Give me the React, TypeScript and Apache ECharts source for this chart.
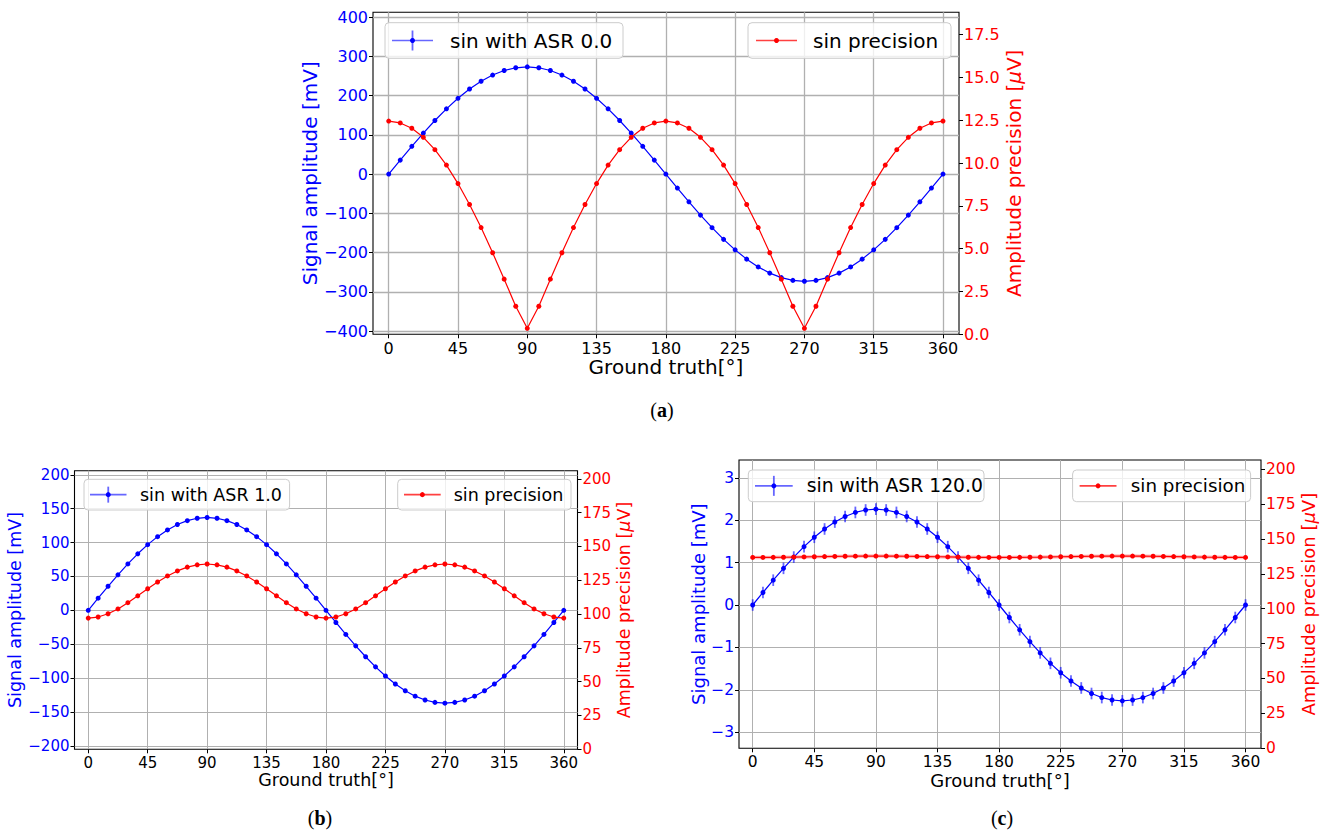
import React, { useEffect, useRef } from "react";
import * as echarts from "echarts";

// ---------------- data ----------------
const angles = [
  0, 7.5, 15, 22.5, 30, 37.5, 45, 52.5, 60, 67.5, 75, 82.5, 90,
  97.5, 105, 112.5, 120, 127.5, 135, 142.5, 150, 157.5, 165, 172.5, 180,
  187.5, 195, 202.5, 210, 217.5, 225, 232.5, 240, 247.5, 255, 262.5, 270,
  277.5, 285, 292.5, 300, 307.5, 315, 322.5, 330, 337.5, 345, 352.5, 360,
];

const xTicks = [0, 45, 90, 135, 180, 225, 270, 315, 360];

// (a) ASR 0.0
const ampA = [
  0, 35.6, 70.7, 104.5, 136.5, 166.2, 193.0, 216.6, 236.4, 252.2, 263.7, 270.7, 273.0,
  270.7, 263.7, 252.2, 236.4, 216.6, 193.0, 166.2, 136.5, 104.5, 70.7, 35.6, 0.0,
  -35.6, -70.7, -104.5, -136.5, -166.2, -193.0, -216.6, -236.4, -252.2, -263.7, -270.7, -273.0,
  -270.7, -263.7, -252.2, -236.4, -216.6, -193.0, -166.2, -136.5, -104.5, -70.7, -35.6, 0.0,
];
const precA = [
  12.45, 12.34, 12.03, 11.5, 10.78, 9.88, 8.8, 7.58, 6.23, 4.76, 3.22, 1.64, 0.35,
  1.64, 3.22, 4.76, 6.23, 7.58, 8.8, 9.88, 10.78, 11.5, 12.03, 12.34, 12.45,
  12.34, 12.03, 11.5, 10.78, 9.88, 8.8, 7.58, 6.23, 4.76, 3.22, 1.64, 0.35,
  1.64, 3.22, 4.76, 6.23, 7.58, 8.8, 9.88, 10.78, 11.5, 12.03, 12.34, 12.45,
];
const ampTicksA = [-400, -300, -200, -100, 0, 100, 200, 300, 400];
const precTicksA = [0, 2.5, 5, 7.5, 10, 12.5, 15, 17.5];

// (b) ASR 1.0
const ampB = [
  0, 17.9, 35.5, 52.4, 68.5, 83.4, 96.9, 108.7, 118.6, 126.6, 132.3, 135.8, 137.0,
  135.8, 132.3, 126.6, 118.6, 108.7, 96.9, 83.4, 68.5, 52.4, 35.5, 17.9, 0.0,
  -17.9, -35.5, -52.4, -68.5, -83.4, -96.9, -108.7, -118.6, -126.6, -132.3, -135.8, -137.0,
  -135.8, -132.3, -126.6, -118.6, -108.7, -96.9, -83.4, -68.5, -52.4, -35.5, -17.9, 0.0,
];
const precB = [
  97.0, 97.8, 100.2, 103.8, 108.4, 113.5, 118.7, 123.7, 128.2, 131.9, 134.7, 136.4, 137.0,
  136.4, 134.7, 131.9, 128.2, 123.7, 118.7, 113.5, 108.4, 103.8, 100.2, 97.8, 97.0,
  97.8, 100.2, 103.8, 108.4, 113.5, 118.7, 123.7, 128.2, 131.9, 134.7, 136.4, 137.0,
  136.4, 134.7, 131.9, 128.2, 123.7, 118.7, 113.5, 108.4, 103.8, 100.2, 97.8, 97.0,
];
const ampTicksB = [-200, -150, -100, -50, 0, 50, 100, 150, 200];
const precTicksB = [0, 25, 50, 75, 100, 125, 150, 175, 200];

// (c) ASR 120.0
const ampC = [
  0, 0.295, 0.585, 0.865, 1.13, 1.376, 1.598, 1.793, 1.957, 2.088, 2.183, 2.241, 2.26,
  2.241, 2.183, 2.088, 1.957, 1.793, 1.598, 1.376, 1.13, 0.865, 0.585, 0.295, 0.0,
  -0.295, -0.585, -0.865, -1.13, -1.376, -1.598, -1.793, -1.957, -2.088, -2.183, -2.241, -2.26,
  -2.241, -2.183, -2.088, -1.957, -1.793, -1.598, -1.376, -1.13, -0.865, -0.585, -0.295, 0.0,
];
const precC = [
  136.7, 136.72, 136.77, 136.85, 136.95, 137.07, 137.2, 137.33, 137.45, 137.55, 137.63, 137.68, 137.7,
  137.68, 137.63, 137.55, 137.45, 137.33, 137.2, 137.07, 136.95, 136.85, 136.77, 136.72, 136.7,
  136.72, 136.77, 136.85, 136.95, 137.07, 137.2, 137.33, 137.45, 137.55, 137.63, 137.68, 137.7,
  137.68, 137.63, 137.55, 137.45, 137.33, 137.2, 137.07, 136.95, 136.85, 136.77, 136.72, 136.7,
];
const ampTicksC = [-3, -2, -1, 0, 1, 2, 3];
const precTicksC = [0, 25, 50, 75, 100, 125, 150, 175, 200];

const blueNames = ["sin with ASR 0.0", "sin with ASR 1.0", "sin with ASR 120.0"];
const redName = "sin precision";
const panelLabels = ["a", "b", "c"];

// ---------------- styling ----------------
const FONT = "DejaVu Sans";
const BLUE = "#0000ff";
const RED = "#ff0000";
const minus = (s: string) => s.replace("-", "\u2212");

type Panel = {
  grid: { left: number; top: number; width: number; height: number };
  xMin: number; xMax: number;
  lMin: number; lMax: number; lTicks: number[]; lFmt: (v: number) => string;
  rMin: number; rMax: number; rTicks: number[]; rFmt: (v: number) => string;
  amp: number[]; prec: number[];
  tickFont: number; nameFont: number;
  lGap: number; rGap: number; xGap: number;
  gridW: number; band: boolean;
};

const panels: Panel[] = [
  {
    grid: { left: 373, top: 12.3, width: 586, height: 322 },
    xMin: -10.2, xMax: 370.4,
    lMin: -408, lMax: 412, lTicks: ampTicksA, lFmt: (v) => minus(String(v)),
    rMin: 0, rMax: 18.8, rTicks: precTicksA, rFmt: (v) => v.toFixed(1),
    amp: ampA, prec: precA, tickFont: 16, nameFont: 20,
    lGap: 50, rGap: 44, xGap: 23, gridW: 1.3, band: false,
  },
  {
    grid: { left: 74.5, top: 470.7, width: 503, height: 278.6 },
    xMin: -10.4, xMax: 370.4,
    lMin: -205, lMax: 206, lTicks: ampTicksB, lFmt: (v) => minus(String(v)),
    rMin: 0, rMax: 206, rTicks: precTicksB, rFmt: (v) => String(v),
    amp: ampB, prec: precB, tickFont: 15, nameFont: 17.5,
    lGap: 44, rGap: 36, xGap: 18.5, gridW: 1, band: false,
  },
  {
    grid: { left: 739, top: 460, width: 522, height: 288.3 },
    xMin: -10, xMax: 371.3,
    lMin: -3.38, lMax: 3.42, lTicks: ampTicksC, lFmt: (v) => minus(String(v)),
    rMin: 0, rMax: 206.5, rTicks: precTicksC, rFmt: (v) => String(v),
    amp: ampC, prec: precC, tickFont: 15.5, nameFont: 18,
    lGap: 31, rGap: 32, xGap: 18, gridW: 1, band: true,
  },
];

function buildOption() {
  const grid: any[] = [];
  const xAxis: any[] = [];
  const yAxis: any[] = [];
  const series: any[] = [];

  panels.forEach((p, i) => {
    grid.push({
      ...p.grid,
      show: true,
      borderColor: "#000",
      borderWidth: 1.1,
      backgroundColor: "transparent",
      containLabel: false,
    });
    xAxis.push({
      type: "value",
      gridIndex: i,
      position: "bottom",
      min: p.xMin,
      max: p.xMax,
      axisLine: { show: false, onZero: false },
      axisTick: { show: true, length: 4, customValues: xTicks, lineStyle: { color: "#000" } },
      axisLabel: {
        customValues: xTicks,
        margin: 6,
        color: "#000",
        fontFamily: FONT,
        fontSize: p.tickFont,
        formatter: (v: number) => String(v),
      },
      splitLine: { show: true, lineStyle: { color: "#b0b0b0", width: p.gridW } },
      name: "Ground truth[°]",
      nameLocation: "middle",
      nameGap: p.xGap,
      nameTextStyle: { color: "#000", fontFamily: FONT, fontSize: p.nameFont },
    });
    yAxis.push({
      type: "value",
      gridIndex: i,
      position: "left",
      min: p.lMin,
      max: p.lMax,
      axisLine: { show: false, onZero: false },
      axisTick: { show: true, length: 4, customValues: p.lTicks, lineStyle: { color: "#000" } },
      axisLabel: {
        customValues: p.lTicks,
        margin: 5,
        color: BLUE,
        fontFamily: FONT,
        fontSize: p.tickFont,
        formatter: p.lFmt,
      },
      splitLine: { show: true, lineStyle: { color: "#b0b0b0", width: p.gridW } },
      name: "Signal amplitude [mV]",
      nameLocation: "middle",
      nameRotate: 90,
      nameGap: p.lGap,
      nameTextStyle: { color: BLUE, fontFamily: FONT, fontSize: p.nameFont },
    });
    yAxis.push({
      type: "value",
      gridIndex: i,
      position: "right",
      min: p.rMin,
      max: p.rMax,
      axisLine: { show: false, onZero: false },
      axisTick: { show: true, length: 4, customValues: p.rTicks, lineStyle: { color: "#000" } },
      axisLabel: {
        customValues: p.rTicks,
        margin: 5,
        color: RED,
        fontFamily: FONT,
        fontSize: p.tickFont,
        formatter: p.rFmt,
      },
      splitLine: { show: false },
      name: "{a|Amplitude precision [}{b|μ}{a|V]}",
      nameLocation: "middle",
      nameRotate: 90,
      nameGap: p.rGap,
      nameTextStyle: {
        color: RED,
        fontFamily: FONT,
        fontSize: p.nameFont,
        rich: {
          a: { color: RED, fontFamily: FONT, fontSize: p.nameFont },
          b: { color: RED, fontFamily: FONT, fontSize: p.nameFont, fontStyle: "italic" },
        },
      },
    });

    const blueData = angles.map((a, k) => [a, p.amp[k]]);
    const errData = angles.map((a, k) => [a, p.amp[k], p.prec[k] / 1000]);
    const redData = angles.map((a, k) => [a, p.prec[k]]);

    series.push({
      type: "line",
      name: blueNames[i],
      xAxisIndex: i,
      yAxisIndex: 2 * i,
      data: blueData,
      color: BLUE,
      symbol: "circle",
      symbolSize: 5,
      showSymbol: true,
      lineStyle: { color: BLUE, width: 1.2 },
      itemStyle: { color: BLUE },
      z: 3,
    });
    series.push({
      type: "custom",
      name: blueNames[i] + " err",
      xAxisIndex: i,
      yAxisIndex: 2 * i,
      data: errData,
      encode: { x: 0, y: 1 },
      renderItem: (params: any, api: any) => {
        const x = api.value(0);
        const y = api.value(1);
        const e = api.value(2);
        const p1 = api.coord([x, y - e]);
        const p2 = api.coord([x, y + e]);
        return {
          type: "line",
          shape: { x1: p1[0], y1: p1[1], x2: p2[0], y2: p2[1] },
          style: { stroke: "rgba(0,0,255,0.6)", lineWidth: 1.8 },
        };
      },
      z: 4,
    });
    if (p.band) {
      series.push({
        type: "line",
        name: redName + " band",
        xAxisIndex: i,
        yAxisIndex: 2 * i + 1,
        data: redData,
        showSymbol: false,
        symbol: "none",
        lineStyle: { color: "rgba(255,0,0,0.25)", width: 3.5 },
        z: 4,
      });
    }
    series.push({
      type: "line",
      name: redName,
      xAxisIndex: i,
      yAxisIndex: 2 * i + 1,
      data: redData,
      color: RED,
      symbol: "circle",
      symbolSize: 5,
      showSymbol: true,
      lineStyle: { color: RED, width: 1.2 },
      itemStyle: { color: RED },
      z: 5,
    });
  });

  // legends (drawn as graphics)
  type Leg = {
    x: number; y: number; w: number; h: number;
    i1: number; i2: number; text: string; tx: number; fs: number;
    color: string; err: boolean; barH: number;
  };
  const legs: Leg[] = [
    { x: 385, y: 22.7, w: 238, h: 35.6, i1: 392, i2: 433, text: blueNames[0], tx: 450, fs: 20, color: BLUE, err: true, barH: 10 },
    { x: 748, y: 22.7, w: 203, h: 35.6, i1: 756, i2: 797, text: redName, tx: 813, fs: 20, color: RED, err: false, barH: 0 },
    { x: 84, y: 479.3, w: 205.6, h: 30.7, i1: 90, i2: 126.5, text: blueNames[1], tx: 140, fs: 17.5, color: BLUE, err: true, barH: 8 },
    { x: 397.7, y: 479.3, w: 173.3, h: 30.7, i1: 404, i2: 440.7, text: redName, tx: 453.7, fs: 17.5, color: RED, err: false, barH: 0 },
    { x: 748.3, y: 470, w: 235.7, h: 31.7, i1: 755, i2: 792.7, text: blueNames[2], tx: 806.7, fs: 18.8, color: BLUE, err: true, barH: 10 },
    { x: 1072.6, y: 470, w: 178, h: 31.7, i1: 1079.6, i2: 1116.5, text: redName, tx: 1130.8, fs: 18.3, color: RED, err: false, barH: 0 },
  ];
  const graphic: any[] = [];
  legs.forEach((l) => {
    const cy = l.y + l.h / 2;
    const cx = (l.i1 + l.i2) / 2;
    const lineColor = l.err ? "rgba(0,0,255,0.6)" : "rgba(255,0,0,0.75)";
    graphic.push({
      type: "rect",
      z: 100,
      shape: { x: l.x, y: l.y, width: l.w, height: l.h, r: 4 },
      style: { fill: "rgba(255,255,255,0.8)", stroke: "#cccccc", lineWidth: 1 },
    });
    graphic.push({
      type: "line",
      z: 101,
      shape: { x1: l.i1, y1: cy, x2: l.i2, y2: cy },
      style: { stroke: lineColor, lineWidth: 1.6 },
    });
    if (l.err) {
      graphic.push({
        type: "line",
        z: 101,
        shape: { x1: cx, y1: cy - l.barH, x2: cx, y2: cy + l.barH },
        style: { stroke: "rgba(0,0,255,0.6)", lineWidth: 1.8 },
      });
    }
    graphic.push({
      type: "circle",
      z: 102,
      shape: { cx, cy, r: 2.5 },
      style: { fill: l.color },
    });
    graphic.push({
      type: "text",
      z: 102,
      x: l.tx,
      y: cy,
      style: {
        text: l.text,
        fill: "#000",
        fontFamily: FONT,
        fontSize: l.fs,
        textAlign: "left",
        textVerticalAlign: "middle",
      },
    });
  });

  const labelPos = [
    { x: 662, y: 410 },
    { x: 320, y: 818 },
    { x: 1002, y: 818 },
  ];
  labelPos.forEach((p, i) => {
    graphic.push({
      type: "text",
      x: p.x,
      y: p.y,
      style: {
        text: `{p|(}{b|${panelLabels[i]}}{p|)}`,
        fontFamily: "Liberation Serif",
        fontSize: 20,
        fill: "#000",
        textAlign: "center",
        textVerticalAlign: "middle",
        rich: {
          p: { fontFamily: "Liberation Serif", fontSize: 20, fill: "#000", color: "#000" },
          b: { fontFamily: "Liberation Serif", fontSize: 20, fontWeight: "bold", fill: "#000", color: "#000" },
        },
      },
    });
  });

  return {
    animation: false,
    backgroundColor: "#ffffff",
    grid,
    xAxis,
    yAxis,
    series,
    graphic,
  };
}

export default function App() {
  const ref = useRef<HTMLDivElement>(null);
  useEffect(() => {
    if (!ref.current) return;
    const chart = echarts.init(ref.current, undefined, { renderer: "svg" });
    chart.setOption(buildOption() as any);
    return () => chart.dispose();
  }, []);
  return (
    <div
      ref={ref}
      style={{ position: "fixed", left: 0, top: 0, width: 1323, height: 834, background: "#fff" }}
    />
  );
}
